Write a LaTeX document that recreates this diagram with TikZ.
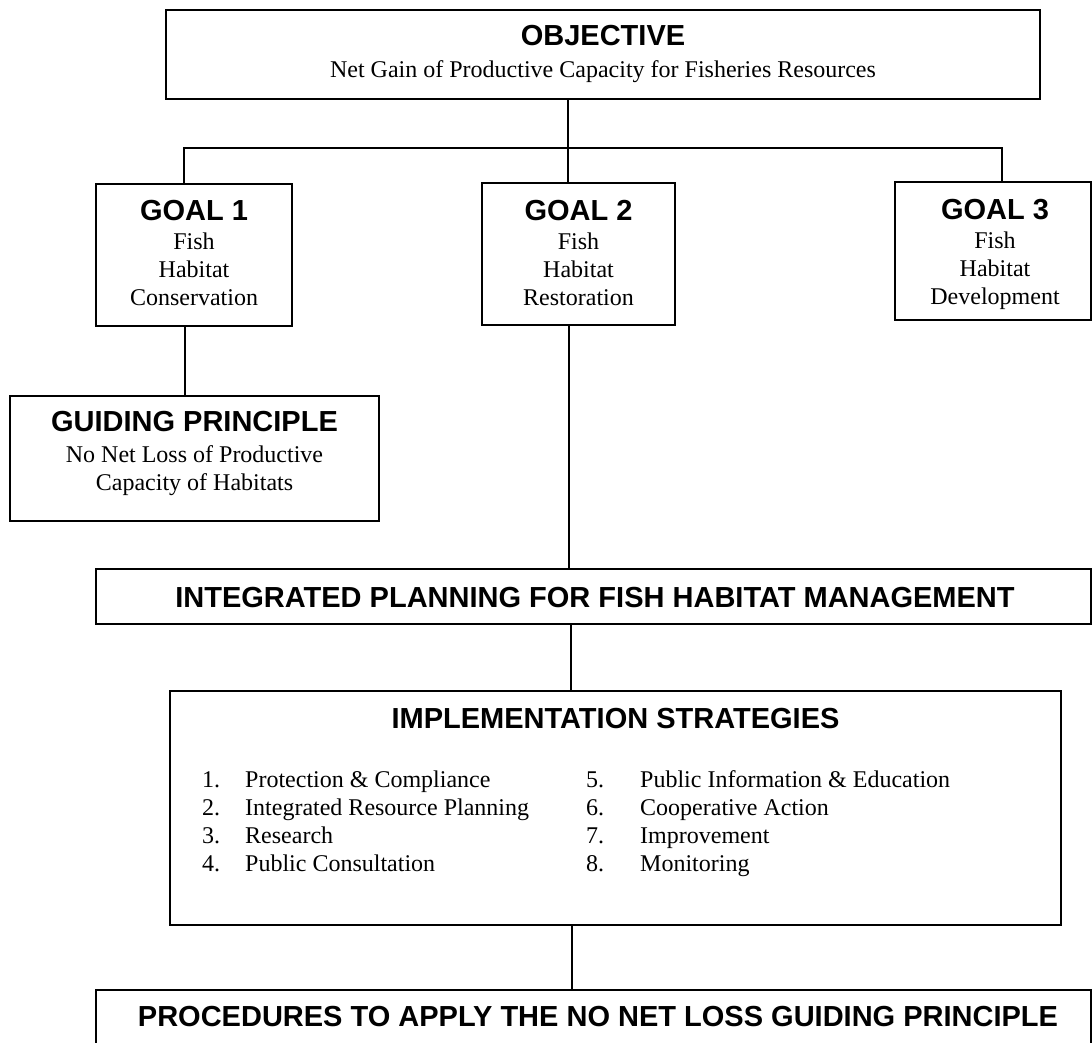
\documentclass[tikz,border=0pt]{standalone}
\usepackage{fontspec}
\setmainfont{Liberation Serif}
\setsansfont{Liberation Sans}
\begin{document}
\begin{tikzpicture}[x=1pt,y=-1pt,
  box/.style={draw, line width=1.6pt, inner sep=0pt},
  wire/.style={line width=1.3pt},
  hd/.style={font=\sffamily\bfseries\fontsize{29}{29}\selectfont, anchor=base, inner sep=0pt},
  bd/.style={font=\fontsize{24}{28}\selectfont, anchor=base, inner sep=0pt},
  num/.style={font=\fontsize{24}{28}\selectfont, anchor=base west, inner sep=0pt}]
\useasboundingbox[fill=white] (0,0) rectangle (1092,1042);

% boxes
\node[box, minimum width=874pt, minimum height=89pt] (obj) at (603,54.5) {};
\node[box, minimum width=196pt, minimum height=142pt] (goal1) at (194,255) {};
\node[box, minimum width=193pt, minimum height=142pt] (goal2) at (578.5,254) {};
\node[box, minimum width=196pt, minimum height=138pt] (goal3) at (993,251) {};
\node[box, minimum width=369pt, minimum height=125pt] (gp) at (194.5,458.5) {};
\node[box, minimum width=995pt, minimum height=55pt] (ip) at (593.5,596.5) {};
\node[box, minimum width=891pt, minimum height=234pt] (imp) at (615.5,808) {};
\node[box, minimum width=995pt, minimum height=100pt] (proc) at (593.5,1040) {};

% texts
\node[hd] (tobj) at (603,45) {OBJECTIVE};
\node[bd] (sobj) at (603,77) {Net Gain of Productive Capacity for Fisheries Resources};

\node[hd] (tg1) at (194,220) {GOAL 1};
\node[bd] (g1a) at (194,249) {Fish};
\node[bd] (g1b) at (194,277) {Habitat};
\node[bd] (g1c) at (194,305) {Conservation};

\node[hd] (tg2) at (578.5,220) {GOAL 2};
\node[bd] (g2a) at (578.5,249) {Fish};
\node[bd] (g2b) at (578.5,277) {Habitat};
\node[bd] (g2c) at (578.5,305) {Restoration};

\node[hd] (tg3) at (995,219) {GOAL 3};
\node[bd] (g3a) at (995,248) {Fish};
\node[bd] (g3b) at (995,276) {Habitat};
\node[bd] (g3c) at (995,304) {Development};

\node[hd] (tgp) at (194.5,431) {GUIDING PRINCIPLE};
\node[bd] (gpa) at (194.5,462) {No Net Loss of Productive};
\node[bd] (gpb) at (194.5,490) {Capacity of Habitats};

\node[hd] (tip) at (595,607) {INTEGRATED PLANNING FOR FISH HABITAT MANAGEMENT};

\node[hd] (timp) at (615.5,728) {IMPLEMENTATION STRATEGIES};
\node[num] (n1) at (202,787) {1.};
\node[num] (i1) at (245,787) {Protection \& Compliance};
\node[num] (n2) at (202,815) {2.};
\node[num] (i2) at (245,815) {Integrated Resource Planning};
\node[num] (n3) at (202,843) {3.};
\node[num] (i3) at (245,843) {Research};
\node[num] (n4) at (202,871) {4.};
\node[num] (i4) at (245,871) {Public Consultation};
\node[num] (n5) at (586,787) {5.};
\node[num] (i5) at (640,787) {Public Information \& Education};
\node[num] (n6) at (586,815) {6.};
\node[num] (i6) at (640,815) {Cooperative Action};
\node[num] (n7) at (586,843) {7.};
\node[num] (i7) at (640,843) {Improvement};
\node[num] (n8) at (586,871) {8.};
\node[num] (i8) at (640,871) {Monitoring};

\node[hd] (tproc) at (598,1026) {PROCEDURES TO APPLY THE NO NET LOSS GUIDING PRINCIPLE};

% connectors
\coordinate (b1) at (184,148);
\coordinate (b2) at (568,148);
\coordinate (b3) at (1002,148);
\coordinate (c1) at (185,0);
\coordinate (c2) at (569,0);
\coordinate (c3) at (571,0);
\coordinate (c4) at (572,0);
\draw[wire] (obj.south -| b2) -- (goal2.north -| b2);
\draw[wire] (goal1.north -| b1) |- (b3) -- (goal3.north -| b3);
\draw[wire] (goal1.south -| c1) -- (gp.north -| c1);
\draw[wire] (goal2.south -| c2) -- (ip.north -| c2);
\draw[wire] (ip.south -| c3) -- (imp.north -| c3);
\draw[wire] (imp.south -| c4) -- (proc.north -| c4);
\end{tikzpicture}
\end{document}
